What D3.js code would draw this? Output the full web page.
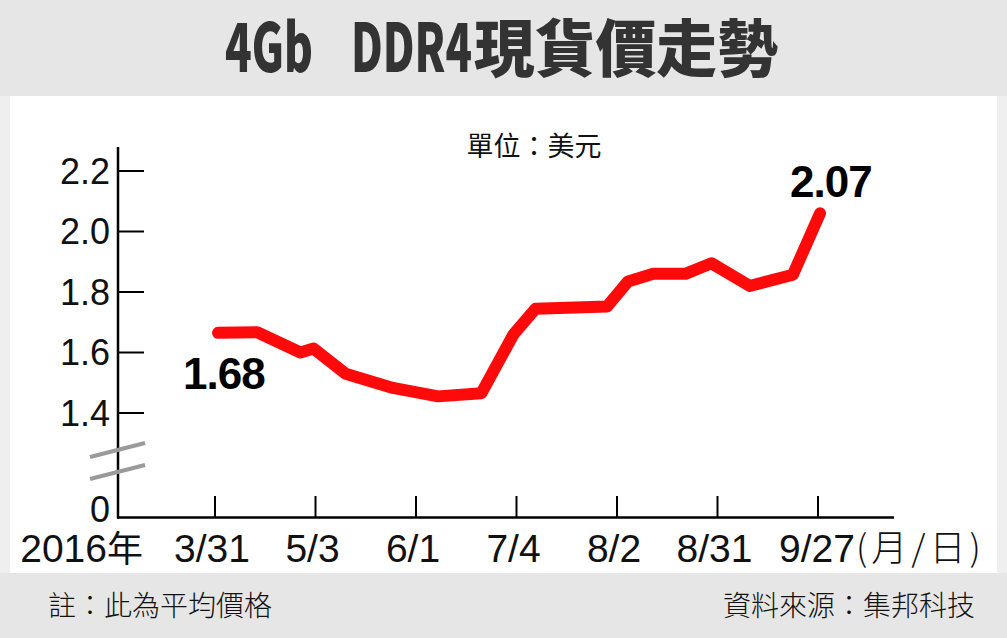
<!DOCTYPE html>
<html><head><meta charset="utf-8">
<script src="https://cdn.jsdelivr.net/npm/d3@7"></script>
<style>
html,body{margin:0;padding:0;background:#e6e6e6;}
svg{display:block;}
</style></head>
<body>
<svg id="c" width="1007" height="638"></svg>
<script>
// ---- data ----
const tickLabels = ["3/31", "5/3", "6/1", "7/4", "8/2", "8/31", "9/27"];
// positions of observations measured in tick units (0 = 3/31 ... 6 = 9/27)
const obsPos   = [0.03, 0.42, 0.85, 0.98, 1.30, 1.77, 2.22, 2.65, 2.97, 3.19, 3.90, 4.11, 4.36, 4.68, 4.94, 5.32, 5.75, 6.02];
const obsPrice = [1.665, 1.667, 1.60, 1.613, 1.53, 1.483, 1.455, 1.465, 1.66, 1.745, 1.752, 1.835, 1.86, 1.86, 1.895, 1.82, 1.857, 2.06];
const yTicks = [0, 1.4, 1.6, 1.8, 2.0, 2.2];
const startLabel = "1.68";
const endLabel = "2.07";

const svg = d3.select("#c");
const LATIN = "'Liberation Sans', Arial, sans-serif";
const CJK = "'Noto Sans CJK TC', 'Noto Sans CJK SC', sans-serif";

// background panels
svg.append("rect").attr("x",0).attr("y",0).attr("width",1007).attr("height",638).attr("fill","#e6e6e6");
svg.append("rect").attr("x",0).attr("y",96).attr("width",10).attr("height",477).attr("fill","#efefef");
svg.append("rect").attr("x",997).attr("y",96).attr("width",10).attr("height",477).attr("fill","#efefef");
svg.append("rect").attr("x",10).attr("y",96).attr("width",987).attr("height",477).attr("fill","#ffffff");

// title (condensed by horizontal scaling to fit measured widths)
const tc = "#333333";
function fitText(str, x0, width, size) {
  const t = svg.append("text").attr("x",0).attr("y",0).attr("font-family",CJK).attr("font-weight",900)
    .attr("font-size",size).attr("fill",tc).text(str);
  const w = t.node().getComputedTextLength();
  t.attr("transform",`translate(${x0},72) scale(${width / w},1)`);
}
fitText("4Gb", 225, 88, 67);
fitText("DDR4", 351, 121, 67);
fitText("現貨價走勢", 474, 304, 62);

// scales
const x = d3.scaleLinear().domain([0, 6]).range([215, 818]);
const y = d3.scaleLinear().domain([0, 1.4, 2.2]).range([517.5, 413, 171]);

// y axis
const yAxis = svg.append("g");
yAxis.append("line").attr("x1",118).attr("x2",118).attr("y1",147).attr("y2",518.5)
  .attr("stroke","#000").attr("stroke-width",2.5);
yAxis.selectAll("line.tk").data(yTicks.filter(d=>d>0)).join("line").attr("class","tk")
  .attr("x1",118).attr("x2",144).attr("y1",d=>y(d)).attr("y2",d=>y(d))
  .attr("stroke","#000").attr("stroke-width",2);
yAxis.selectAll("text").data(yTicks).join("text")
  .attr("x",110).attr("y",d=>d===0 ? y(d)-8 : y(d)).attr("dy","0.36em")
  .attr("text-anchor","end").attr("font-family",LATIN).attr("font-size",36).attr("fill","#111")
  .text(d=>d===0 ? "0" : d3.format(".1f")(d));

// axis break marks
svg.append("line").attr("x1",90).attr("y1",457).attr("x2",145).attr("y2",443).attr("stroke","#9a9a9a").attr("stroke-width",4);
svg.append("line").attr("x1",90).attr("y1",479).attr("x2",145).attr("y2",465).attr("stroke","#9a9a9a").attr("stroke-width",4);

// x axis
const xAxis = svg.append("g");
xAxis.append("line").attr("x1",117).attr("x2",894).attr("y1",517.5).attr("y2",517.5)
  .attr("stroke","#000").attr("stroke-width",2.5);
xAxis.selectAll("line.tk").data(tickLabels).join("line").attr("class","tk")
  .attr("x1",(d,i)=>x(i)).attr("x2",(d,i)=>x(i)).attr("y1",496).attr("y2",517)
  .attr("stroke","#000").attr("stroke-width",2);
xAxis.selectAll("text.tl").data(tickLabels).join("text").attr("class","tl")
  .attr("x",(d,i)=>x(i) - (i===6 ? 1 : 3)).attr("y",562)
  .attr("text-anchor","middle").attr("font-family",LATIN).attr("font-size",39).attr("fill","#111")
  .text(d=>d);
const yr = svg.append("text").attr("x",143).attr("y",562).attr("text-anchor","end")
  .attr("font-size",39).attr("fill","#111");
yr.append("tspan").attr("font-family",LATIN).text("2016");
yr.append("tspan").attr("font-family",CJK).attr("font-size",36).text("年");
svg.append("text").attr("x",856).attr("y",561).attr("font-size",36).attr("fill","#111")
  .attr("font-family",CJK).attr("font-weight",300).attr("letter-spacing",4).text("(月/日)");

// unit
svg.append("text").attr("x",534).attr("y",146).attr("dy","0.36em").attr("text-anchor","middle")
  .attr("font-family",CJK).attr("font-size",27).attr("fill","#111").text("單位：美元");

// line
const pts = obsPos.map((p,i)=>[p, obsPrice[i]]);
svg.append("path").datum(pts)
  .attr("d", d3.line().x(d=>x(d[0])).y(d=>y(d[1])))
  .attr("fill","none").attr("stroke","#ff0a0a").attr("stroke-width",12)
  .attr("stroke-linecap","round").attr("stroke-linejoin","round");

// value labels
svg.append("text").attr("x",x(obsPos[0]) - 35).attr("y",389).attr("font-family",LATIN).attr("font-weight",700)
  .attr("font-size",44).attr("fill","#000").attr("letter-spacing",-1).text(startLabel);
svg.append("text").attr("x",x(obsPos[obsPos.length-1]) - 30).attr("y",197).attr("font-family",LATIN).attr("font-weight",700)
  .attr("font-size",44).attr("fill","#000").attr("letter-spacing",-1).text(endLabel);

// footer
svg.append("text").attr("x",48).attr("y",606).attr("dy","0.36em").attr("font-family",CJK).attr("font-weight",300)
  .attr("font-size",28).attr("fill","#111").text("註：此為平均價格");
svg.append("text").attr("x",975).attr("y",606).attr("dy","0.36em").attr("text-anchor","end").attr("font-family",CJK).attr("font-weight",300)
  .attr("font-size",28).attr("fill","#111").text("資料來源：集邦科技");
</script>
</body></html>
